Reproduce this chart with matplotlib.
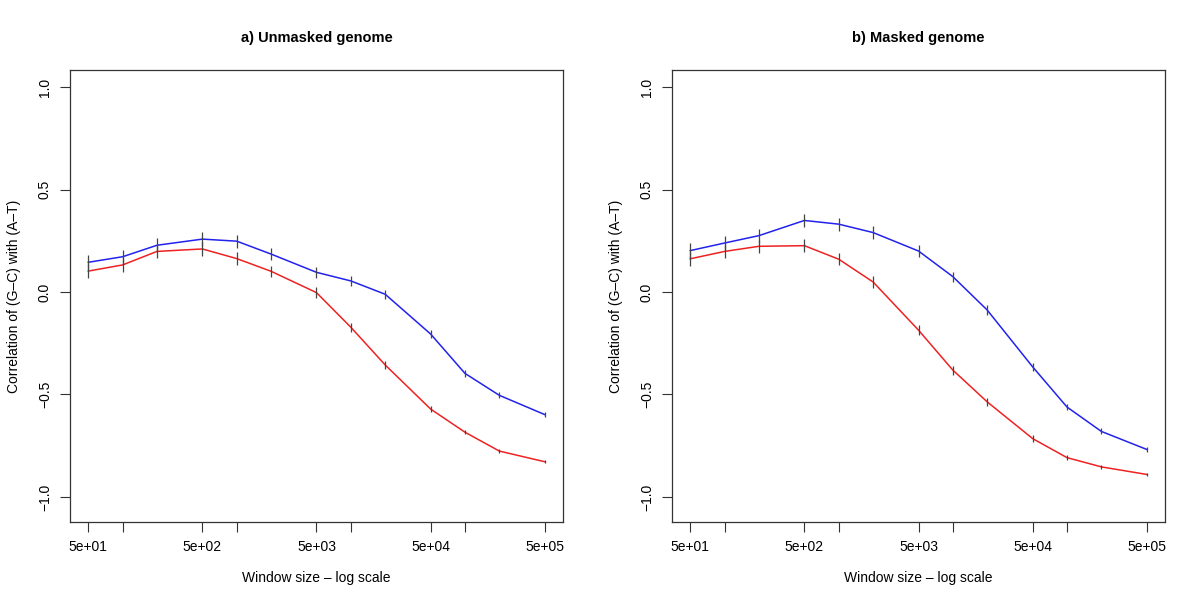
import numpy as np
import matplotlib
matplotlib.use("Agg")
import matplotlib.pyplot as plt

plt.rcParams['font.family'] = ['Liberation Sans', 'DejaVu Sans']

# window sizes (bp)
window = [50, 100, 200, 500, 1000, 2000, 5000, 10000, 20000, 50000, 100000, 200000, 500000]

# a) unmasked genome
unmasked_blue = [0.145, 0.172, 0.228, 0.258, 0.248, 0.185, 0.096, 0.054, -0.011, -0.205, -0.397, -0.504, -0.598]
unmasked_red = [0.102, 0.132, 0.198, 0.210, 0.163, 0.101, -0.003, -0.172, -0.356, -0.571, -0.684, -0.776, -0.828]
# b) masked genome
masked_blue = [0.202, 0.239, 0.275, 0.349, 0.331, 0.290, 0.200, 0.075, -0.088, -0.365, -0.561, -0.680, -0.768]
masked_red = [0.162, 0.198, 0.223, 0.226, 0.160, 0.049, -0.186, -0.381, -0.536, -0.715, -0.808, -0.853, -0.890]

# error bar half widths
err_blue = [0.035, 0.034, 0.034, 0.033, 0.032, 0.030, 0.027, 0.025, 0.023, 0.020, 0.017, 0.015, 0.012]
err_red = [0.035, 0.034, 0.033, 0.032, 0.030, 0.028, 0.025, 0.022, 0.019, 0.015, 0.011, 0.009, 0.007]

titles = ["a) Unmasked genome", "b) Masked genome"]
xticks = [50, 100, 500, 1000, 5000, 10000, 50000, 100000, 500000]
xticklabels = ["5e+01", "", "5e+02", "", "5e+03", "", "5e+04", "", "5e+05"]
yticks = [-1.0, -0.5, 0.0, 0.5, 1.0]
yticklabels = ["\u22121.0", "\u22120.5", "0.0", "0.5", "1.0"]

fig = plt.figure(figsize=(12, 6), dpi=100)
boxes = [[70/1200, 1-522/600, 493/1200, 452/600],
         [672/1200, 1-522/600, 493/1200, 452/600]]
series = [(unmasked_blue, unmasked_red), (masked_blue, masked_red)]

lo = 10**(np.log10(50) - 0.16)
hi = 10**(np.log10(500000) + 0.16)

for i in range(2):
    ax = fig.add_axes(boxes[i])
    blue, red = series[i]
    ax.plot(window, blue, color="#2222ee", lw=1.1)
    ax.plot(window, red, color="#ee2222", lw=1.1)
    ax.errorbar(window, blue, yerr=err_blue, fmt="none", ecolor="#444444", elinewidth=0.9, capsize=0)
    ax.errorbar(window, red, yerr=err_red, fmt="none", ecolor="#444444", elinewidth=0.9, capsize=0)
    ax.set_xscale("log")
    ax.set_xlim(lo, hi)
    ax.set_ylim(-1.122, 1.083)
    ax.set_xticks(xticks)
    ax.set_xticklabels(xticklabels)
    ax.minorticks_off()
    ax.set_yticks(yticks)
    ax.set_yticklabels(yticklabels, rotation=90, va="center")
    ax.tick_params(direction="out", length=7, width=0.8, labelsize=10, pad=6, color="#333333")
    for s in ax.spines.values():
        s.set_linewidth(0.9)
        s.set_color("#333333")
    ax.set_xlabel("Window size \u2013 log scale", fontsize=10, labelpad=12)
    ax.set_ylabel("Correlation of (G\u2013C) with (A\u2013T)", fontsize=10, labelpad=12)
    ax.set_title(titles[i], fontsize=10.5, fontweight="bold", pad=20)

fig.savefig("out.png", dpi=100)
